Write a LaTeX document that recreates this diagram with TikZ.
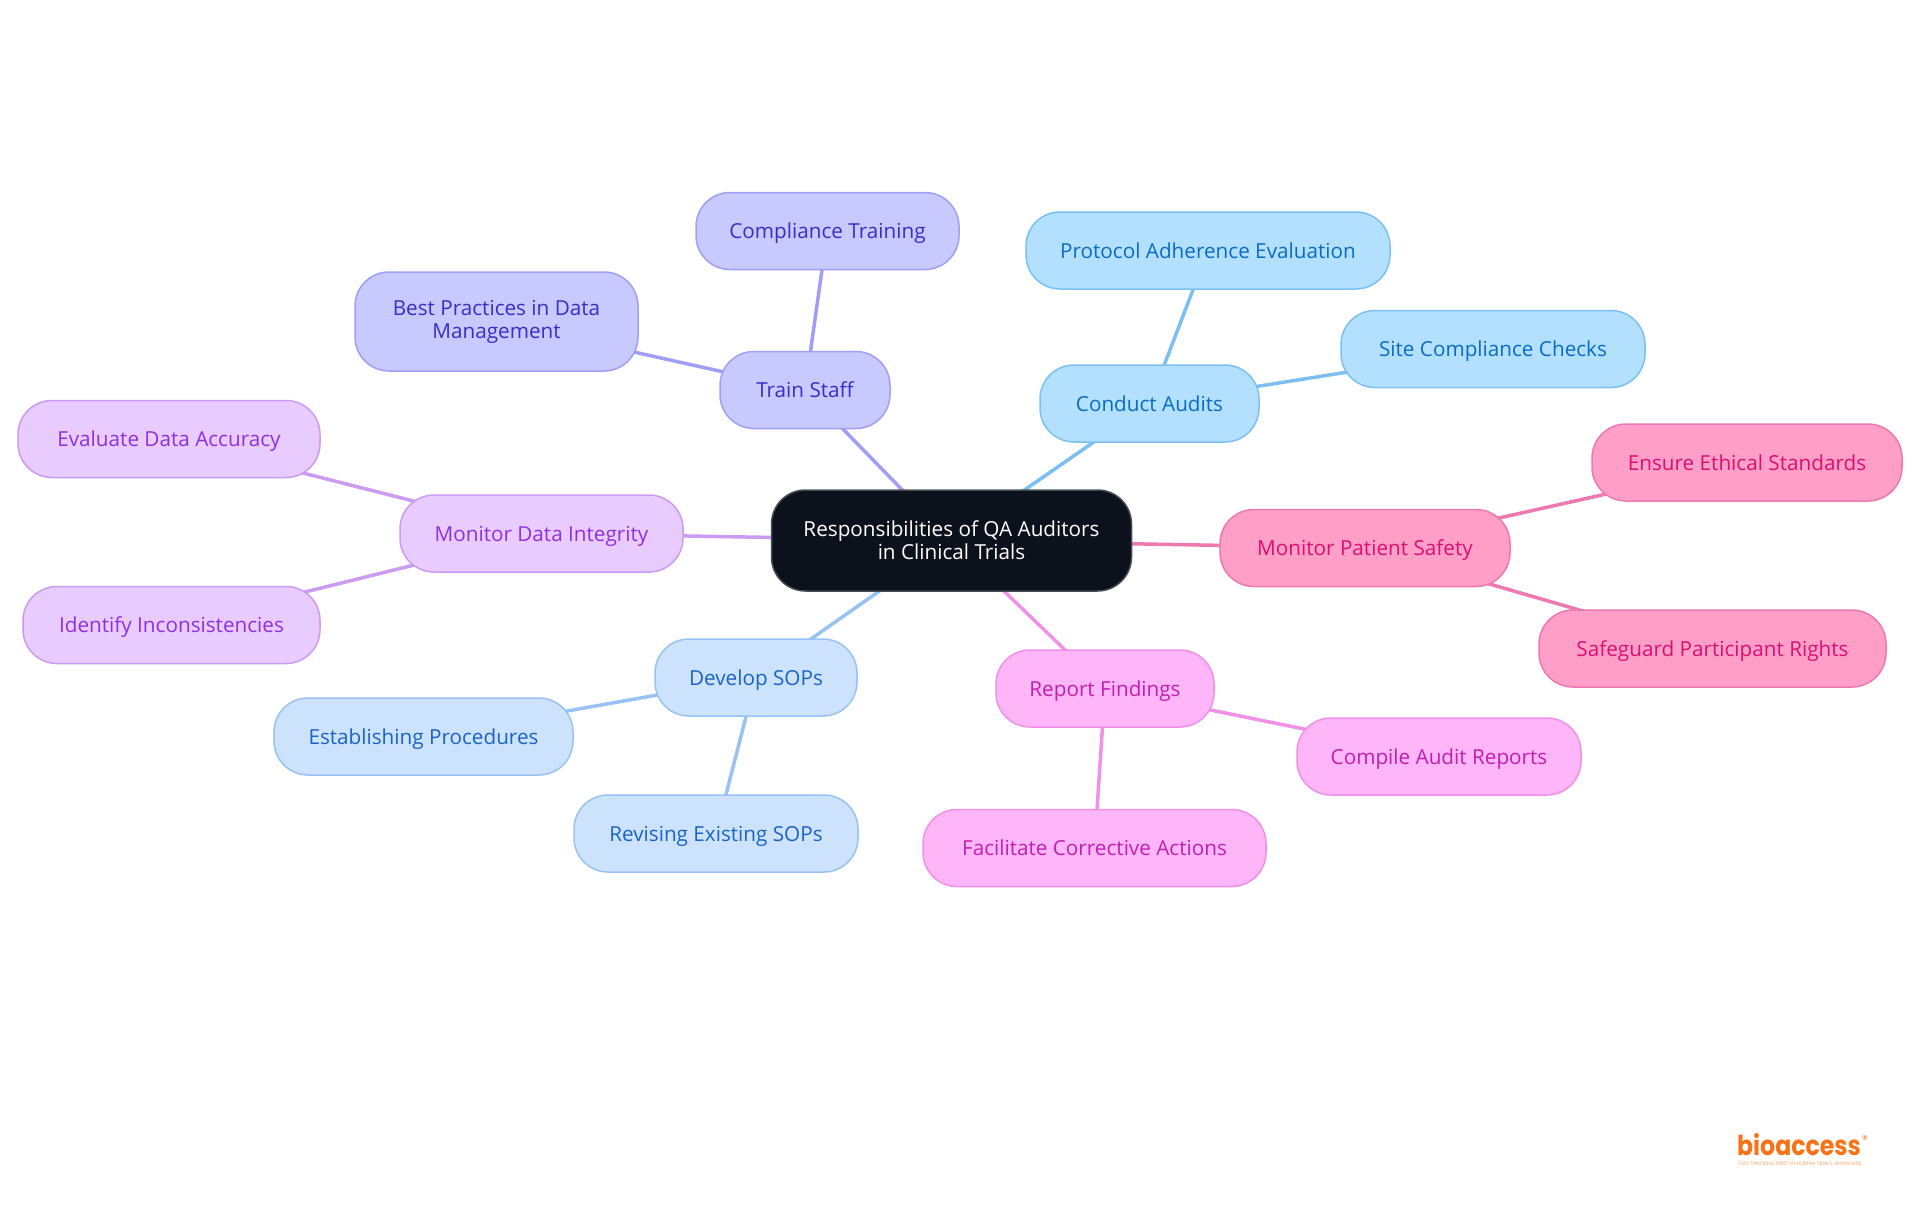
\documentclass[tikz,border=0pt]{standalone}
\usepackage{fontspec}
\setmainfont{Open Sans}
\newfontfamily\logofont{Poppins}
\usetikzlibrary{backgrounds}
\definecolor{rootfill}{HTML}{0B121B}
\definecolor{indigofill}{HTML}{C8C9FF}
\definecolor{indigoline}{HTML}{A09EF5}
\definecolor{indigotext}{HTML}{3730C8}
\definecolor{skyfill}{HTML}{B3E0FF}
\definecolor{skyline}{HTML}{7CC0F2}
\definecolor{skytext}{HTML}{0B6CC4}
\definecolor{pinkfill}{HTML}{FF9FC8}
\definecolor{pinkline}{HTML}{EE78B0}
\definecolor{pinktext}{HTML}{DB0F72}
\definecolor{fuchsiafill}{HTML}{FFB6F8}
\definecolor{fuchsialine}{HTML}{F090E8}
\definecolor{fuchsiatext}{HTML}{C01FB0}
\definecolor{bluefill}{HTML}{CDE3FD}
\definecolor{blueline}{HTML}{98C2F3}
\definecolor{bluetext}{HTML}{1A64C8}
\definecolor{purplefill}{HTML}{E8CBFF}
\definecolor{purpleline}{HTML}{CB9AF2}
\definecolor{purpletext}{HTML}{9030E0}
\definecolor{logoorange}{HTML}{F97316}
\tikzstyle{idea} = [rectangle, rounded corners=34pt, align=center, inner sep=0pt, text height=20pt, text depth=5pt, line width=1.5pt, font=\fontsize{20.7}{23}\selectfont]
\tikzstyle{twoline} = [text height=, text depth=]
\tikzstyle{rootbox} = [idea, twoline, draw=rootfill!75!white, fill=rootfill, text=white]
\tikzstyle{indigobox} = [idea, draw=indigoline, fill=indigofill, text=indigotext]
\tikzstyle{skybox} = [idea, draw=skyline, fill=skyfill, text=skytext]
\tikzstyle{pinkbox} = [idea, draw=pinkline, fill=pinkfill, text=pinktext]
\tikzstyle{fuchsiabox} = [idea, draw=fuchsialine, fill=fuchsiafill, text=fuchsiatext]
\tikzstyle{bluebox} = [idea, draw=blueline, fill=bluefill, text=bluetext]
\tikzstyle{purplebox} = [idea, draw=purpleline, fill=purplefill, text=purpletext]
\tikzstyle{branch} = [line width=3.5pt]
\begin{document}
\begin{tikzpicture}[x=1pt,y=-1pt]
    \useasboundingbox (0,0) rectangle (1920,1215);
    \node (root) [rootbox, minimum width=360pt, minimum height=101pt] at (951.5,540.5) {Responsibilities of QA Auditors\\in Clinical Trials};

    \node (train) [indigobox, minimum width=170pt, minimum height=77pt] at (805,390) {Train Staff};
    \node (compliance) [indigobox, minimum width=263pt, minimum height=77pt] at (827.5,231) {Compliance Training};
    \node (practices) [indigobox, twoline, minimum width=283pt, minimum height=99pt] at (496.5,321.5) {Best Practices in Data\\Management};

    \node (audits) [skybox, minimum width=219pt, minimum height=77pt] at (1149.5,403.5) {Conduct Audits};
    \node (protocol) [skybox, minimum width=364pt, minimum height=77pt] at (1208,250.5) {Protocol Adherence Evaluation};
    \node (site) [skybox, minimum width=304pt, minimum height=77pt] at (1493,349) {Site Compliance Checks};

    \node (patient) [pinkbox, minimum width=290pt, minimum height=77pt] at (1365,548) {Monitor Patient Safety};
    \node (ethical) [pinkbox, minimum width=310pt, minimum height=77pt] at (1747,462.5) {Ensure Ethical Standards};
    \node (rights) [pinkbox, minimum width=347pt, minimum height=77pt] at (1712.5,648.5) {Safeguard Participant Rights};

    \node (findings) [fuchsiabox, minimum width=218pt, minimum height=77pt] at (1105,688.5) {Report Findings};
    \node (reports) [fuchsiabox, minimum width=284pt, minimum height=77pt] at (1439,756.5) {Compile Audit Reports};
    \node (actions) [fuchsiabox, minimum width=343pt, minimum height=77pt] at (1094.5,848) {Facilitate Corrective Actions};

    \node (sops) [bluebox, minimum width=202pt, minimum height=77pt] at (756,677.5) {Develop SOPs};
    \node (procedures) [bluebox, minimum width=299pt, minimum height=77pt] at (423.5,736.5) {Establishing Procedures};
    \node (revising) [bluebox, minimum width=284pt, minimum height=77pt] at (716,833.5) {Revising Existing SOPs};

    \node (integrity) [purplebox, minimum width=283pt, minimum height=77pt] at (541.5,533.5) {Monitor Data Integrity};
    \node (accuracy) [purplebox, minimum width=302pt, minimum height=77pt] at (169,439) {Evaluate Data Accuracy};
    \node (inconsist) [purplebox, minimum width=297pt, minimum height=77pt] at (171.5,625) {Identify Inconsistencies};

    \begin{pgfonlayer}{background}
    \draw [branch, indigoline] (root.center) -- (train.center);
    \draw [branch, indigoline] (train.center) -- (compliance.center);
    \draw [branch, indigoline] (train.center) -- (practices.center);
    \draw [branch, skyline] (root.center) -- (audits.center);
    \draw [branch, skyline] (audits.center) -- (protocol.center);
    \draw [branch, skyline] (audits.center) -- (site.center);
    \draw [branch, pinkline] (root.center) -- (patient.center);
    \draw [branch, pinkline] (patient.center) -- (ethical.center);
    \draw [branch, pinkline] (patient.center) -- (rights.center);
    \draw [branch, fuchsialine] (root.center) -- (findings.center);
    \draw [branch, fuchsialine] (findings.center) -- (reports.center);
    \draw [branch, fuchsialine] (findings.center) -- (actions.center);
    \draw [branch, blueline] (root.center) -- (sops.center);
    \draw [branch, blueline] (sops.center) -- (procedures.center);
    \draw [branch, blueline] (sops.center) -- (revising.center);
    \draw [branch, purpleline] (root.center) -- (integrity.center);
    \draw [branch, purpleline] (integrity.center) -- (accuracy.center);
    \draw [branch, purpleline] (integrity.center) -- (inconsist.center);
    \end{pgfonlayer}

    % logo
    \node (logo) [inner sep=0pt, anchor=base, xscale=0.86, transform shape, text=logoorange, font=\logofont\bfseries\fontsize{27.5}{28}\selectfont] at (1799,1155) {bioaccess};
    \node (mark) [inner sep=0pt, text=logoorange, font=\fontsize{7}{7}\selectfont] at (1865,1138) {®};
    \node (tagline) [inner sep=0pt, text=logoorange!70!white, font=\fontsize{5}{5}\selectfont] at (1800,1164) {FAST-TRACKING FIRST-IN-HUMAN TRIALS, ANYWHERE};
\end{tikzpicture}
\end{document}
